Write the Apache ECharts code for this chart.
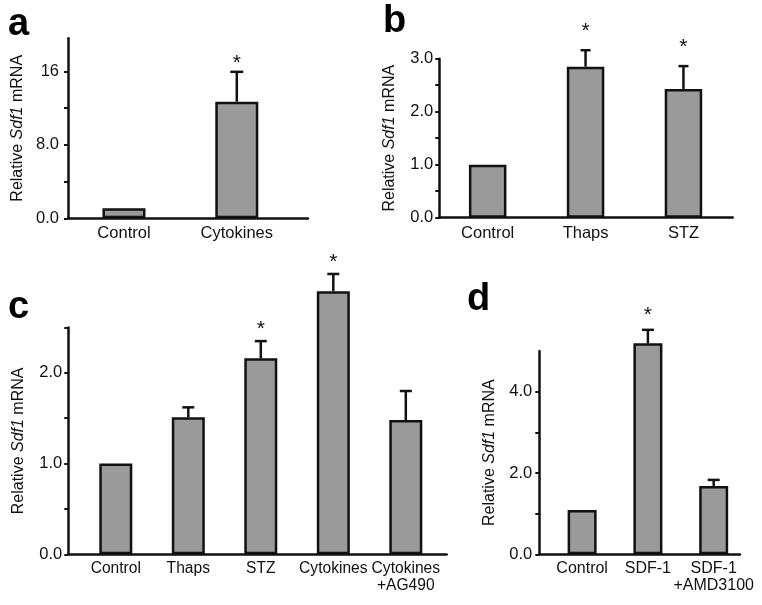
<!DOCTYPE html>
<html>
<head>
<meta charset="utf-8">
<script src="https://cdn.jsdelivr.net/npm/echarts@6/dist/echarts.min.js"></script>
<style>html,body{margin:0;padding:0;background:#fff;}#c{width:762px;height:605px;}</style>
</head>
<body>
<div id="c"></div>
<script>
// ---- Panel a ----
const aCats = ['Control', 'Cytokines'];
const aVals = [1.1, 12.7];
const aErr = [0, 3.25];
const aSig = [0, 1];
const aYTicks = [0, 4, 8, 12, 16];
const aYLabelVals = [0, 8, 16];
const aYLabels = ['0.0', '8.0', '16'];

// ---- Panel b ----
const bCats = ['Control', 'Thaps', 'STZ'];
const bVals = [1.0, 2.85, 2.43];
const bErr = [0, 0.31, 0.43];
const bSig = [0, 1, 1];
const bYTicks = [0, 0.5, 1, 1.5, 2, 2.5, 3];
const bYLabelVals = [0, 1, 2, 3];
const bYLabels = ['0.0', '1.0', '2.0', '3.0'];

// ---- Panel c ----
const cCats = ['Control', 'Thaps', 'STZ', 'Cytokines', 'Cytokines\n+AG490'];
const cVals = [1.0, 1.51, 2.16, 2.90, 1.48];
const cErr = [0, 0.11, 0.19, 0.19, 0.32];
const cSig = [0, 0, 1, 1, 0];
const cYTicks = [0, 0.5, 1, 1.5, 2, 2.5];
const cYLabelVals = [0, 1, 2];
const cYLabels = ['0.0', '1.0', '2.0'];

// ---- Panel d ----
const dCats = ['Control', 'SDF-1', 'SDF-1\n+AMD3100'];
const dVals = [1.09, 5.19, 1.68];
const dErr = [0, 0.33, 0.15];
const dSig = [0, 1, 0];
const dYTicks = [0, 1, 2, 3, 4];
const dYLabelVals = [0, 2, 4];
const dYLabels = ['0.0', '2.0', '4.0'];

const FONT = '"Liberation Sans", Arial, Helvetica, sans-serif';
const INK = '#111';

const panels = [
  {cats: aCats, vals: aVals, err: aErr, sig: aSig, ticks: aYTicks, lv: aYLabelVals, lt: aYLabels,
   grid: {left: 68, top: 38.3, width: 240, height: 180}, xmin: -0.496, xmax: 1.631, ymax: 19.6,
   barW: 43, cap: 13, star: 15, ymargin: 9, xmargin: 7, xfs: 16.5},
  {cats: bCats, vals: bVals, err: bErr, sig: bSig, ticks: bYTicks, lv: bYLabelVals, lt: bYLabels,
   grid: {left: 439.3, top: 58.7, width: 293.4, height: 159}, xmin: -0.494, xmax: 2.503, ymax: 3,
   barW: 37.5, cap: 10, star: 25, ymargin: 6, xmargin: 7, xfs: 16.5},
  {cats: cCats, vals: cVals, err: cErr, sig: cSig, ticks: cYTicks, lv: cYLabelVals, lt: cYLabels,
   grid: {left: 68.3, top: 327.5, width: 378.4, height: 226.8}, xmin: -0.655, xmax: 4.564, ymax: 2.5,
   barW: 33, cap: 12, star: 18, ymargin: 6, xmargin: 6, xfs: 15.6},
  {cats: dCats, vals: dVals, err: dErr, sig: dSig, ticks: dYTicks, lv: dYLabelVals, lt: dYLabels,
   grid: {left: 539.3, top: 351, width: 200.7, height: 203.3}, xmin: -0.651, xmax: 2.40, ymax: 5,
   barW: 29, cap: 12, star: 21, ymargin: 7, xmargin: 6, xfs: 16}
];

function errRender(cap, starOff) {
  return function (params, api) {
    const x = api.value(0), v = api.value(1), e = api.value(2), s = api.value(3);
    const base = api.coord([x, v]);
    const top = api.coord([x, v + e]);
    const children = [];
    if (e > 0) {
      children.push({type: 'line', shape: {x1: base[0], y1: base[1], x2: top[0], y2: top[1]},
        style: {stroke: INK, lineWidth: 2.5}});
      children.push({type: 'line', shape: {x1: top[0] - cap / 2, y1: top[1], x2: top[0] + cap / 2, y2: top[1]},
        style: {stroke: INK, lineWidth: 2.5}});
    }
    if (s) {
      children.push({type: 'text', x: top[0], y: top[1] - starOff + 6,
        style: {text: '*', font: '21px ' + FONT, fill: INK, align: 'center', verticalAlign: 'middle'}});
    }
    return {type: 'group', children: children};
  };
}

const grids = [], xAxes = [], yAxes = [], series = [];
panels.forEach((p, k) => {
  grids.push(Object.assign({containLabel: false}, p.grid));
  xAxes.push({
    type: 'value', gridIndex: k, min: p.xmin, max: p.xmax,
    splitLine: {show: false},
    axisLine: {show: true, onZero: false, lineStyle: {color: INK, width: 2.5}},
    axisTick: {show: false},
    axisLabel: {
      customValues: p.cats.map((c, i) => i),
      formatter: v => p.cats[Math.round(v)],
      margin: p.xmargin, fontSize: p.xfs, fontFamily: FONT, color: INK, lineHeight: 17
    }
  });
  const labelMap = {};
  p.lv.forEach((v, i) => { labelMap[v] = p.lt[i]; });
  yAxes.push({
    type: 'value', gridIndex: k, min: 0, max: p.ymax,
    splitLine: {show: false},
    axisLine: {show: true, onZero: false, lineStyle: {color: INK, width: 2.5}},
    axisTick: {show: true, customValues: p.ticks, length: 4, lineStyle: {color: INK, width: 2}},
    axisLabel: {
      customValues: p.lv,
      formatter: v => labelMap[v] !== undefined ? labelMap[v] : '',
      margin: p.ymargin, fontSize: 16.5, fontFamily: FONT, color: INK
    },
    name: '{n|Relative }{i|Sdf1}{n| mRNA}',
    nameLocation: 'middle', nameGap: 42, nameRotate: 90,
    nameTextStyle: {
      fontSize: 16, fontFamily: FONT, color: INK,
      rich: {
        n: {fontSize: 16, fontFamily: FONT, color: INK},
        i: {fontSize: 16, fontFamily: FONT, color: INK, fontStyle: 'italic'}
      }
    }
  });
  series.push({
    type: 'bar', xAxisIndex: k, yAxisIndex: k, clip: false,
    barWidth: p.barW,
    data: p.vals.map((v, i) => [i, v]),
    itemStyle: {color: '#9a9a9a', borderColor: INK, borderWidth: 2.5},
    z: 2
  });
  series.push({
    type: 'custom', xAxisIndex: k, yAxisIndex: k, clip: false,
    renderItem: errRender(p.cap, p.star),
    encode: {x: 0, y: 1},
    data: p.vals.map((v, i) => [i, v, p.err[i], p.sig[i]]),
    z: 3
  });
});

const letterStyle = {fontSize: 38, fontWeight: 'bold', fontFamily: FONT, color: '#000'};
const chart = echarts.init(document.getElementById('c'), null, {renderer: 'canvas'});
chart.setOption({
  animation: false,
  backgroundColor: '#fff',
  title: [
    {text: 'a', left: 8, top: 6, textStyle: letterStyle, padding: 0},
    {text: 'b', left: 383, top: 3, textStyle: letterStyle, padding: 0},
    {text: 'c', left: 8, top: 289, textStyle: letterStyle, padding: 0},
    {text: 'd', left: 467, top: 281, textStyle: letterStyle, padding: 0}
  ],
  grid: grids,
  xAxis: xAxes,
  yAxis: yAxes,
  series: series
});
</script>
</body>
</html>
